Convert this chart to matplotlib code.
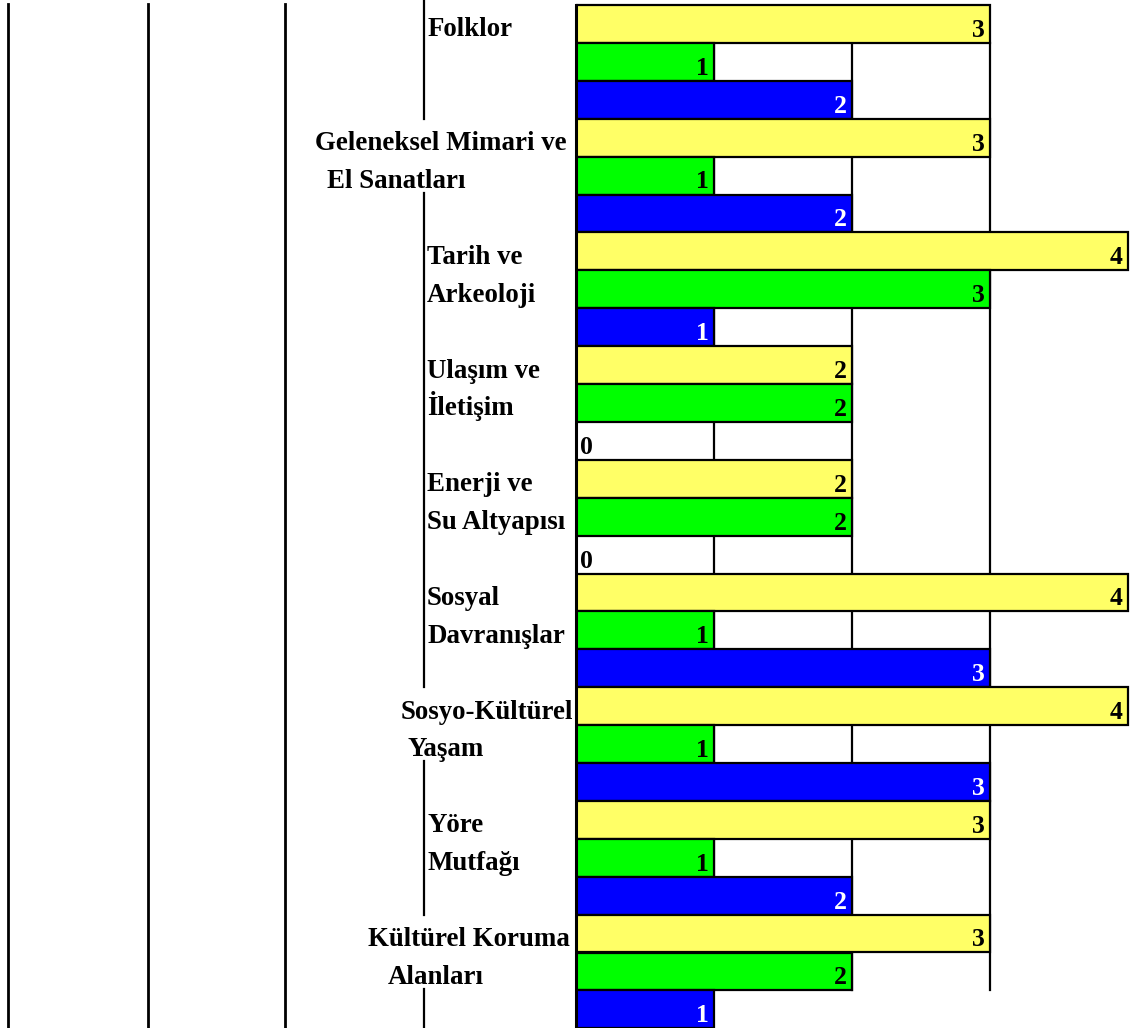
"""
Horizontal grouped bar table: cultural topics (yellow / green / blue counts)
"""

import matplotlib
matplotlib.use("Agg")
import matplotlib.pyplot as plt
from matplotlib.lines import Line2D
from matplotlib.transforms import blended_transform_factory

# Data
categories = [
    ["Folklor"],
    ["Geleneksel Mimari ve", "El Sanatları"],
    ["Tarih ve", "Arkeoloji"],
    ["Ulaşım ve", "İletişim"],
    ["Enerji ve", "Su Altyapısı"],
    ["Sosyal", "Davranışlar"],
    ["Sosyo-Kültürel", "Yaşam"],
    ["Yöre", "Mutfağı"],
    ["Kültürel Koruma", "Alanları"],
]
yellow_vals = [3, 3, 4, 2, 2, 4, 4, 3, 3]
green_vals = [1, 1, 3, 2, 2, 1, 1, 1, 2]
blue_vals = [2, 2, 1, 0, 0, 3, 3, 2, 1]

# Layout (pixels)
W, H = 1132, 1028
label_x = [
    (428, 428), (315, 327), (427, 427), (427, 427), (427, 427),
    (427, 427), (401, 408), (427, 427), (368, 388),
]
col_line_x = 424
table_lines_x = [8, 148, 285]
bar_left_px = 576
px_per_unit = 138
row_px = 37.9
top_px = 5

colors = ["#FFFF66", "#00FF00", "#0000FF"]
text_colors = ["black", "black", "white"]
serif = ["Liberation Serif", "DejaVu Serif"]

fig = plt.figure(figsize=(W / 100, H / 100), dpi=100)
ax = fig.add_axes([bar_left_px / W, 0, (W - bar_left_px) / W, 1])
ax.set_xlim(0, (W - bar_left_px) / px_per_unit)
ax.set_ylim(H / row_px - top_px / row_px, -top_px / row_px)
ax.axis("off")

n_rows = 3 * len(categories)

# Grid lines behind the bars
for gx in [1, 2, 3]:
    ax.plot([gx, gx], [1, n_rows - 1], color="black", lw=1.6, zorder=1,
            clip_on=False)
ax.plot([0, 0], [0, n_rows + 1], color="black", lw=2.2,
        zorder=3, clip_on=False)

# Bars and value labels
for i, vals in enumerate(zip(yellow_vals, green_vals, blue_vals)):
    for j, v in enumerate(vals):
        row = 3 * i + j
        if v > 0:
            ax.barh(row + 0.5, v, height=1, left=0, color=colors[j],
                    edgecolor="black", linewidth=1.6, zorder=2)
            ax.text(v - 5 / px_per_unit, row + 1 - 6 / row_px, str(v),
                    ha="right", va="baseline", fontsize=18.5,
                    fontweight="bold", family=serif, color=text_colors[j],
                    zorder=4)
        else:
            ax.text(4 / px_per_unit, row + 1 - 6 / row_px, "0",
                    ha="left", va="baseline", fontsize=18.5,
                    fontweight="bold", family=serif, color="black",
                    zorder=4)

# Category labels
trans = blended_transform_factory(fig.transFigure, ax.transData)
for i, lines in enumerate(categories):
    for k, line in enumerate(lines):
        fig.text(label_x[i][k] / W, 3 * i + k + 1 - 6.5 / row_px, line,
                 transform=trans, ha="left", va="baseline", fontsize=19.4,
                 fontweight="bold", family=serif, color="black")

# Label column divider, broken where wide labels overflow
segments = []
start = -top_px / row_px
for i in range(len(categories)):
    if label_x[i][0] < col_line_x:
        segments.append((start, 3 * i))
        start = 3 * i + 1.95
segments.append((start, n_rows + 1))
for a, b in segments:
    fig.add_artist(Line2D([col_line_x / W, col_line_x / W],
                          [trans.transform((0, a))[1] / H, trans.transform((0, b))[1] / H],
                          color="black", lw=1.6))

# Outer table lines on the left
for x in table_lines_x:
    fig.add_artist(Line2D([x / W, x / W], [0, 1 - 4 / H], color="black", lw=2))

fig.savefig("out.png", dpi=100)
